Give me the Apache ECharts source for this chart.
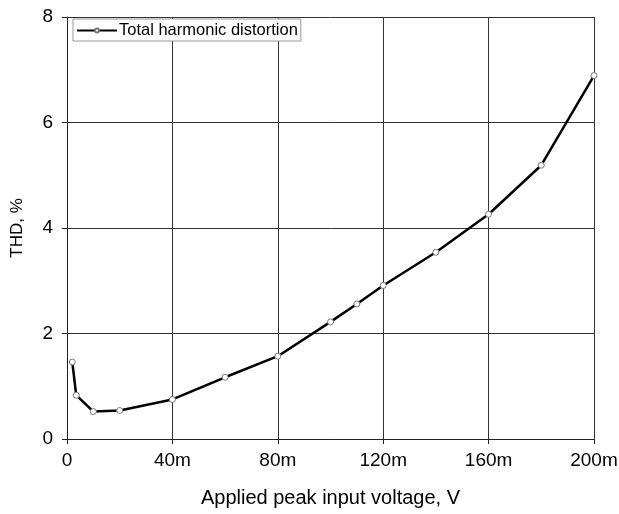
<!DOCTYPE html>
<html>
<head>
<meta charset="utf-8">
<script src="https://cdn.jsdelivr.net/npm/echarts@6/dist/echarts.min.js"></script>
<style>
  html, body { margin: 0; padding: 0; background: #fff; }
  #chart { width: 619px; height: 514px; }
</style>
</head>
<body>
<div id="chart"></div>
<script>
// input voltage in mV, THD in %
const voltage = [2, 3.5, 10, 20, 40, 60, 80, 100, 110, 120, 140, 160, 180, 200]
const thd = [1.46, 0.83, 0.52, 0.54, 0.75, 1.17, 1.57, 2.22, 2.56, 2.91, 3.54, 4.26, 5.19, 6.89]
const xTicks = [0, 40, 80, 120, 160, 200]
const yTicks = [0, 2, 4, 6, 8]

const font = 'Liberation Sans, Arial, sans-serif'
const chart = echarts.init(document.getElementById('chart'))

chart.setOption({
  animation: false,
  grid: { left: 67, right: 25, top: 17, bottom: 75, outerBoundsMode: 'none', containLabel: false },
  legend: {
    left: 73, top: 19,
    padding: [3, 3, 2, 3],
    itemWidth: 40, itemHeight: 5, itemGap: 4,
    backgroundColor: '#fff',
    borderColor: '#999', borderWidth: 1, borderRadius: 0,
    textStyle: { fontFamily: font, fontSize: 16.5, color: '#000', padding: [0, 0, 0, -3] },
    data: ['Total harmonic distortion']
  },
  xAxis: {
    type: 'value',
    min: xTicks[0], max: xTicks[xTicks.length - 1], interval: 40,
    name: 'Applied peak input voltage, V',
    nameLocation: 'middle', nameGap: 49,
    nameTextStyle: { fontFamily: font, fontSize: 20, color: '#000' },
    axisLine: { lineStyle: { color: '#222', width: 1 } },
    axisTick: { show: true, length: 5, lineStyle: { color: '#222' } },
    axisLabel: {
      fontFamily: font, fontSize: 19, color: '#000', margin: 12,
      formatter: v => v === 0 ? '0' : v + 'm'
    },
    splitLine: { show: true, lineStyle: { color: '#333', width: 1 } }
  },
  yAxis: {
    type: 'value',
    min: yTicks[0], max: yTicks[yTicks.length - 1], interval: 2,
    name: 'THD, %',
    nameLocation: 'middle', nameGap: 41,
    nameTextStyle: { fontFamily: font, fontSize: 17, color: '#000' },
    axisLine: { show: true, lineStyle: { color: '#222', width: 1 } },
    axisTick: { show: true, length: 5, lineStyle: { color: '#222' } },
    axisLabel: { fontFamily: font, fontSize: 19, color: '#000', margin: 14 },
    splitLine: { show: true, lineStyle: { color: '#333', width: 1 } }
  },
  series: [{
    name: 'Total harmonic distortion',
    type: 'line',
    data: voltage.map((v, i) => [v, thd[i]]),
    symbol: 'circle',
    symbolSize: 6,
    showAllSymbol: true,
    lineStyle: { color: '#000', width: 2.5 },
    itemStyle: { color: '#fff', borderColor: '#777', borderWidth: 1 },
    z: 5
  }]
})
</script>
</body>
</html>
